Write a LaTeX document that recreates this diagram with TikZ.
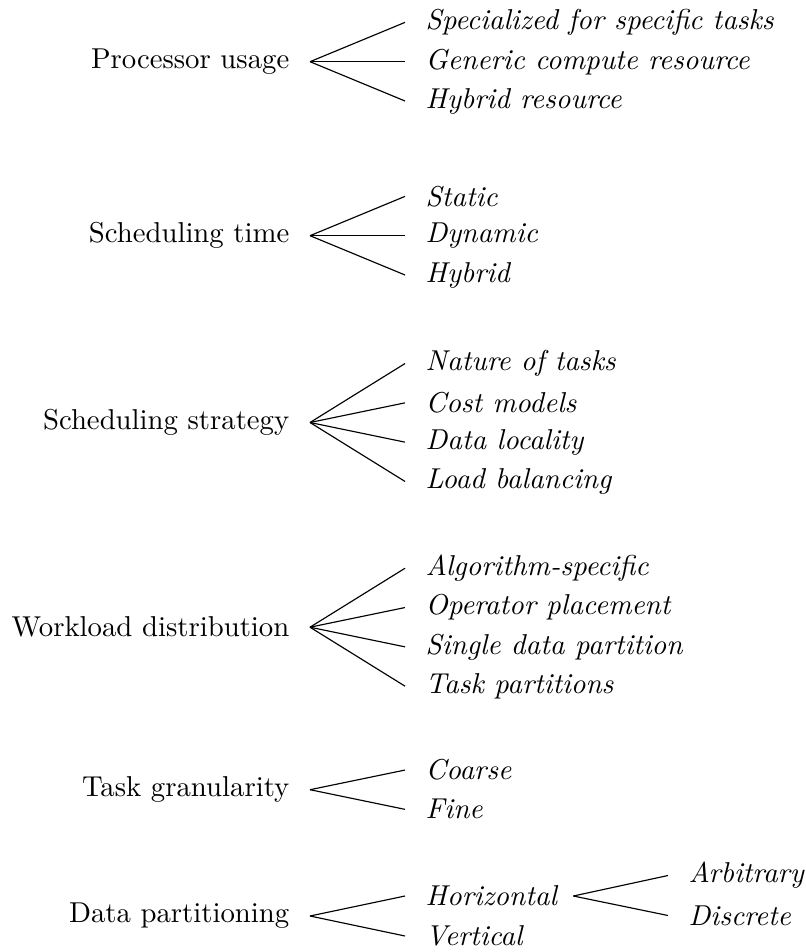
\documentclass[tikz,border=0pt]{standalone}
\begin{document}
\begin{tikzpicture}[x=0.3478pt, y=-0.3478pt,
  rootnode/.style={anchor=east, inner xsep=7pt, inner ysep=2pt},
  leafnode/.style={anchor=west, inner xsep=7pt, inner ysep=2pt, font=\itshape},
  branch/.style={line width=0.4pt}]
\useasboundingbox (0,0) rectangle (806,952);
% Processor usage
\node[rootnode] (pu) at (310,61.7) {Processor usage};
\node[leafnode] (pu1) at (405,22.4) {Specialized for specific tasks};
\node[leafnode] (pu2) at (405,61.7) {Generic compute resource};
\node[leafnode] (pu3) at (405,101) {Hybrid resource};
% Scheduling time
\node[rootnode] (st) at (310,235.7) {Scheduling time};
\node[leafnode] (st1) at (405,196.4) {Static};
\node[leafnode] (st2) at (405,235.7) {Dynamic};
\node[leafnode] (st3) at (405,275) {Hybrid};
% Scheduling strategy
\node[rootnode] (ss) at (310,422.5) {Scheduling strategy};
\node[leafnode] (ss1) at (405,363.55) {Nature of tasks};
\node[leafnode] (ss2) at (405,402.85) {Cost models};
\node[leafnode] (ss3) at (405,442.15) {Data locality};
\node[leafnode] (ss4) at (405,481.45) {Load balancing};
% Workload distribution
\node[rootnode] (wd) at (310,627.2) {Workload distribution};
\node[leafnode] (wd1) at (405,568.25) {Algorithm-specific};
\node[leafnode] (wd2) at (405,607.55) {Operator placement};
\node[leafnode] (wd3) at (405,646.85) {Single data partition};
\node[leafnode] (wd4) at (405,686.15) {Task partitions};
% Task granularity
\node[rootnode] (tg) at (310,789.7) {Task granularity};
\node[leafnode] (tg1) at (405,770.05) {Coarse};
\node[leafnode] (tg2) at (405,809.35) {Fine};
% Data partitioning
\node[rootnode] (dp) at (310,916) {Data partitioning};
\node[leafnode] (dp1) at (405,896) {Horizontal};
\node[leafnode] (dp2) at (405,936) {Vertical};
\node[leafnode] (dp11) at (668,875.5) {Arbitrary};
\node[leafnode] (dp12) at (668,915.5) {Discrete};
% edges
\foreach \p/\c in {pu/pu1,pu/pu2,pu/pu3,st/st1,st/st2,st/st3,
  ss/ss1,ss/ss2,ss/ss3,ss/ss4,wd/wd1,wd/wd2,wd/wd3,wd/wd4,
  tg/tg1,tg/tg2,dp/dp1,dp/dp2}
  \draw[branch] (\p.east) -- (\c.west);
\foreach \c in {dp11,dp12}
  \draw[branch] ([xshift=-1.5pt]dp1.east) -- (\c.west);
\end{tikzpicture}
\end{document}
